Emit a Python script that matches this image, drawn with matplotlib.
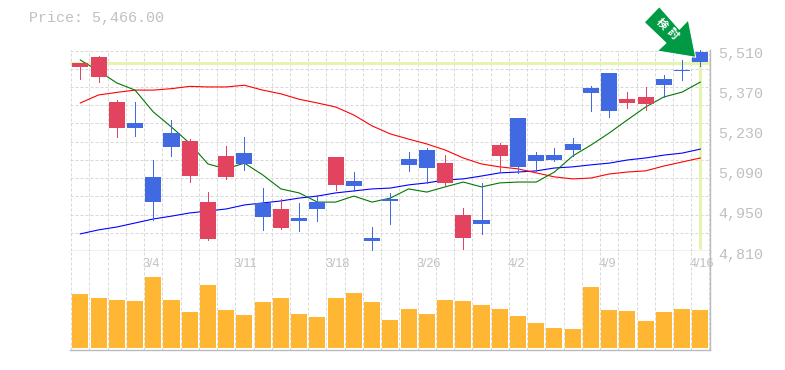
import numpy as np
import matplotlib
matplotlib.use('Agg')
import matplotlib.pyplot as plt
from matplotlib.patches import Polygon
from matplotlib.transforms import Affine2D, ScaledTranslation

# %%
opens = [5451, 5416, 5238, 5255, 5067, 5220, 5070, 4850, 5067, 5150, 4976, 4889, 4923, 4979, 5039, 5053, 4854, 4990,
         5129, 5161, 5046, 4854, 4917, 5140, 5273, 5143, 5143, 5182, 5377, 5430, 5325, 5321, 5409, 5440, 5503]
closes = [5465, 5486, 5328, 5238, 4979, 5171, 5192, 4979, 5140, 5112, 4927, 4955, 4913, 4955, 5136, 5035, 4843, 4983,
          5109, 5098, 5115, 4934, 4903, 5178, 5102, 5122, 5126, 5161, 5360, 5297, 5339, 5346, 5388, 5437, 5468]
highs = [5465, 5489, 5335, 5328, 5126, 5266, 5199, 5014, 5175, 5206, 5028, 4990, 4976, 5004, 5136, 5084, 4892, 5011,
         5154, 5168, 5143, 4958, 5046, 5185, 5273, 5154, 5168, 5203, 5384, 5430, 5363, 5381, 5423, 5475, 5510]
lows = [5409, 5399, 5206, 5211, 4917, 5140, 5049, 4847, 5060, 5091, 4882, 4885, 4878, 4913, 5021, 5018, 4808, 4903,
        5088, 5046, 5039, 4815, 4868, 5088, 5081, 5088, 5122, 5140, 5297, 5276, 5308, 5301, 5346, 5405, 5454]
ma_short = [5475, 5437, 5395, 5370, 5294, 5241, 5184, 5112, 5095, 5115, 5074, 5025, 5011, 4979, 4979, 5000, 4979, 4993,
            5025, 5014, 5032, 5049, 5032, 5046, 5049, 5049, 5084, 5140, 5178, 5220, 5266, 5311, 5346, 5363, 5398]
ma_mid = [5325, 5353, 5362, 5370, 5370, 5375, 5383, 5381, 5381, 5387, 5370, 5357, 5338, 5325, 5311, 5283, 5245, 5217,
          5199, 5182, 5161, 5133, 5112, 5102, 5095, 5081, 5067, 5060, 5063, 5077, 5084, 5088, 5105, 5119, 5133]
ma_long = [4868, 4882, 4892, 4906, 4920, 4930, 4941, 4948, 4955, 4969, 4976, 4983, 4993, 5000, 5011, 5018, 5025, 5028,
           5039, 5046, 5056, 5060, 5070, 5081, 5084, 5088, 5098, 5102, 5109, 5115, 5126, 5133, 5143, 5150, 5164]
volume = [54, 50, 48, 47, 71, 48, 36, 63, 38, 33, 46, 50, 34, 31, 50, 55, 46, 28,
          39, 34, 48, 47, 43, 39, 32, 25, 20, 19, 61, 38, 37, 27, 36, 39, 38]
price_ticks = [4810, 4950, 5090, 5230, 5370, 5510]
date_ticks = [4, 9, 14, 19, 24, 29, 34]
date_labels = ['3/4', '3/11', '3/18', '3/26', '4/2', '4/9', '4/16']
last_price = 5466

# %%
W, H = 785, 370
GRAY = '#c0c0c0'
GRID = '#d8d8d8'
BLUE = '#4169e1'
RED = '#e2435f'
px = 0.72  # one pixel in points
plt.rcParams['font.family'] = ['Liberation Mono', 'DejaVu Sans Mono']

fig = plt.figure(figsize=(W / 100, H / 100), dpi=100)
ax = fig.add_axes([70 / W, 1 - 250.5 / H, 640 / W, 200.5 / H])
ax_vol = fig.add_axes([70 / W, 1 - 350 / H, 640 / W, 99.5 / H], sharex=ax)

n = len(opens)
idx = np.arange(n)
opens = np.array(opens)
closes = np.array(closes)
colors = [RED if c > o else BLUE for o, c in zip(opens, closes)]

ax.set_xlim(-0.565, 34.53)
ax.set_ylim(4810, 5510)
ax_vol.set_ylim(-2, 97.5)

# %%
grid_x = np.arange(-1, n) + 0.5
for a in (ax, ax_vol):
    a.set_xticks(grid_x, minor=True)
    a.grid(which='minor', axis='x', color=GRID, linewidth=px, linestyle=(0, (3, 2)))
    a.set_axisbelow(True)
    for side in ('left', 'top'):
        a.spines[side].set_visible(False)
    for side in ('right', 'bottom'):
        a.spines[side].set_color('#bbbbbb')
        a.spines[side].set_linewidth(1.4 * px)
ax.set_yticks(np.linspace(4810, 5510, 12)[:-1] + 700 / 11 * 0.97, minor=True)
ax.grid(which='minor', axis='y', color=GRID, linewidth=px, linestyle=(0, (3, 2)))
ax.tick_params(which='minor', length=0)
ax_vol.tick_params(which='minor', length=0)

# price highlight
ax.axhline(last_price, color='#e4f5b0', linewidth=3 * px, zorder=1.5)
ax.plot([idx[-1], idx[-1]], [4815, last_price], color='#e4f5b0', linewidth=3 * px, zorder=1.5, solid_capstyle='butt')

# moving averages
ax.plot(idx, ma_long, color='#0000ff', linewidth=1.1 * px, zorder=2)
ax.plot(idx, ma_mid, color='#ff0000', linewidth=1.1 * px, zorder=2)
ax.plot(idx, ma_short, color='#007700', linewidth=1.1 * px, zorder=2)

# candles
ax.vlines(idx, lows, highs, colors=colors, linewidth=0.8 * px, zorder=3, antialiased=False)
ax.bar(idx, np.abs(closes - opens), bottom=np.minimum(opens, closes), width=0.88, color=colors, zorder=4,
       antialiased=False)

ax_vol.bar(idx, volume, width=0.88, color='#ffb733', zorder=3, antialiased=False)

# %%
ax.yaxis.tick_right()
ax.set_yticks(price_ticks)
ax.set_yticklabels(['{:,}'.format(p) for p in price_ticks], fontsize=10.8, color=GRAY)
ax.tick_params(axis='y', which='major', length=0, pad=6)
shift = ScaledTranslation(0, -2.5 / 72 * 0.72, fig.dpi_scale_trans)
for label in ax.get_yticklabels():
    label.set_clip_on(False)
    label.set_transform(label.get_transform() + shift)
ax.tick_params(axis='x', which='both', length=0, labelbottom=False)

ax_vol.set_yticks([])
ax_vol.set_xticks(date_ticks)
ax_vol.set_xticklabels(date_labels, fontsize=9, color=GRAY, family='Liberation Sans', ha='left')
ax_vol.tick_params(axis='x', which='major', length=0, labelbottom=False, labeltop=True, pad=-14)
shift_x = ScaledTranslation(-10.5 / 100, 0, fig.dpi_scale_trans)
for label in ax_vol.get_xticklabels():
    label.set_transform(label.get_transform() + shift_x)

fig.text(29 / W, 1 - 18 / H, 'Price: 5,466.00', fontsize=10.8, color=GRAY, ha='left', va='center')

# %%
# arrow badge, in pixels from the top left corner
to_fig = Affine2D().scale(1, -1).translate(0, H)
arrow = [(659.3, 6.7), (644.3, 22.3), (666, 43), (657.3, 51), (695.7, 57.3), (688.3, 20), (679.3, 29.3)]
fig.add_artist(Polygon(arrow, closed=True, facecolor='#009944', edgecolor='white', linewidth=px,
                       transform=to_fig, zorder=10))
for ch, cx, cy in (('検', 661.7, 24), ('討', 672.7, 33.3)):
    fig.text(cx, H - cy, ch, transform=None, fontsize=8, color='white', fontweight='bold', rotation=-45,
             rotation_mode='anchor', ha='center', va='center', family=['Noto Sans CJK JP', 'DejaVu Sans'], zorder=11)

plt.savefig('out.png', dpi=100)
